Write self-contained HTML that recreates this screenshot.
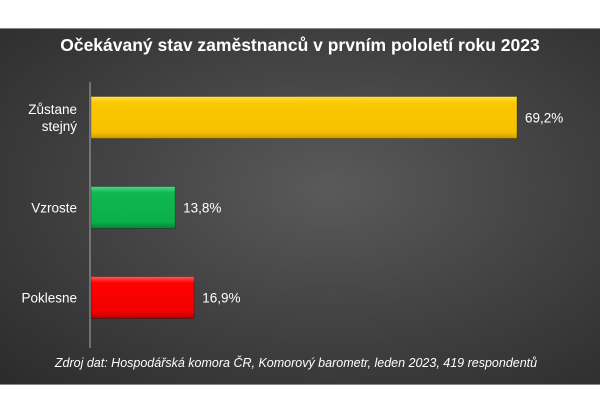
<!DOCTYPE html>
<html><head><meta charset="utf-8"><style>
body{margin:0;background:#fff;width:600px;height:400px;overflow:hidden;font-family:"Liberation Sans",sans-serif}
#panel{position:absolute;left:0;top:28px;width:600px;height:355px;background:radial-gradient(ellipse at 55% 45%,#5a5a5a 0%,#444 45%,#2b2b2b 100%);border-top:1px solid #888;border-bottom:1px solid #888}
</style></head><body>
<div id="panel"></div>
<svg id="chart" width="600" height="400" style="position:absolute;left:0;top:0">
<defs>
<linearGradient id="gy" x1="0" y1="0" x2="0" y2="1"><stop offset="0" stop-color="#ffe04a"/><stop offset="0.15" stop-color="#fcc800"/><stop offset="0.85" stop-color="#f6c000"/><stop offset="1" stop-color="#c79a00"/></linearGradient>
<linearGradient id="gg" x1="0" y1="0" x2="0" y2="1"><stop offset="0" stop-color="#4fd68a"/><stop offset="0.15" stop-color="#10b850"/><stop offset="0.85" stop-color="#0aaf4a"/><stop offset="1" stop-color="#07803a"/></linearGradient>
<linearGradient id="gr" x1="0" y1="0" x2="0" y2="1"><stop offset="0" stop-color="#ff5a5a"/><stop offset="0.15" stop-color="#ff0000"/><stop offset="0.85" stop-color="#f00000"/><stop offset="1" stop-color="#b00000"/></linearGradient>
</defs>
<text x="300" y="51" text-anchor="middle" fill="#fff" font-size="17.5" font-weight="bold">Očekávaný stav zaměstnanců v prvním pololetí roku 2023</text>
<line x1="90" y1="82" x2="90" y2="348" stroke="#aaa" stroke-width="1"/>
<g id="bars"></g>
<text x="296" y="367" text-anchor="middle" fill="#fff" font-size="12.5" font-style="italic">Zdroj dat: Hospodářská komora ČR, Komorový barometr, leden 2023, 419 respondentů</text>
</svg>
<script>
const categories=[["Zůstane","stejný"],["Vzroste"],["Poklesne"]];
const values=[69.2,13.8,16.9];
const labels=["69,2%","13,8%","16,9%"];
const fills=["url(#gy)","url(#gg)","url(#gr)"];
const x0=90,pxPerUnit=427/69.2;
function xs(v){return x0+v*pxPerUnit;}
function yc(i){return 117.5+i*90;}
const g=document.getElementById('bars');
const NS="http://www.w3.org/2000/svg";
categories.forEach((c,i)=>{
  const r=document.createElementNS(NS,'rect');
  r.setAttribute('x',x0+1);r.setAttribute('y',yc(i)-21);
  r.setAttribute('width',xs(values[i])-x0-1);r.setAttribute('height',42);
  r.setAttribute('fill',fills[i]);r.setAttribute('stroke','rgba(0,0,0,0.25)');
  
  
  g.appendChild(r);
  const t=document.createElementNS(NS,'text');
  t.setAttribute('x',xs(values[i])+8);t.setAttribute('y',yc(i)+5);
  t.setAttribute('fill','#fff');t.setAttribute('font-size','13.5');
  t.textContent=labels[i];
  
  
  g.appendChild(t);
  c.forEach((line,j)=>{
    const l=document.createElementNS(NS,'text');
    l.setAttribute('x',77);
    l.setAttribute('y',yc(i)+5+(j-(c.length-1)/2)*17);
    l.setAttribute('text-anchor','end');l.setAttribute('fill','#fff');l.setAttribute('font-size','13.5');
    l.textContent=line;
    
    
    g.appendChild(l);
  });
});
</script>
</body></html>
